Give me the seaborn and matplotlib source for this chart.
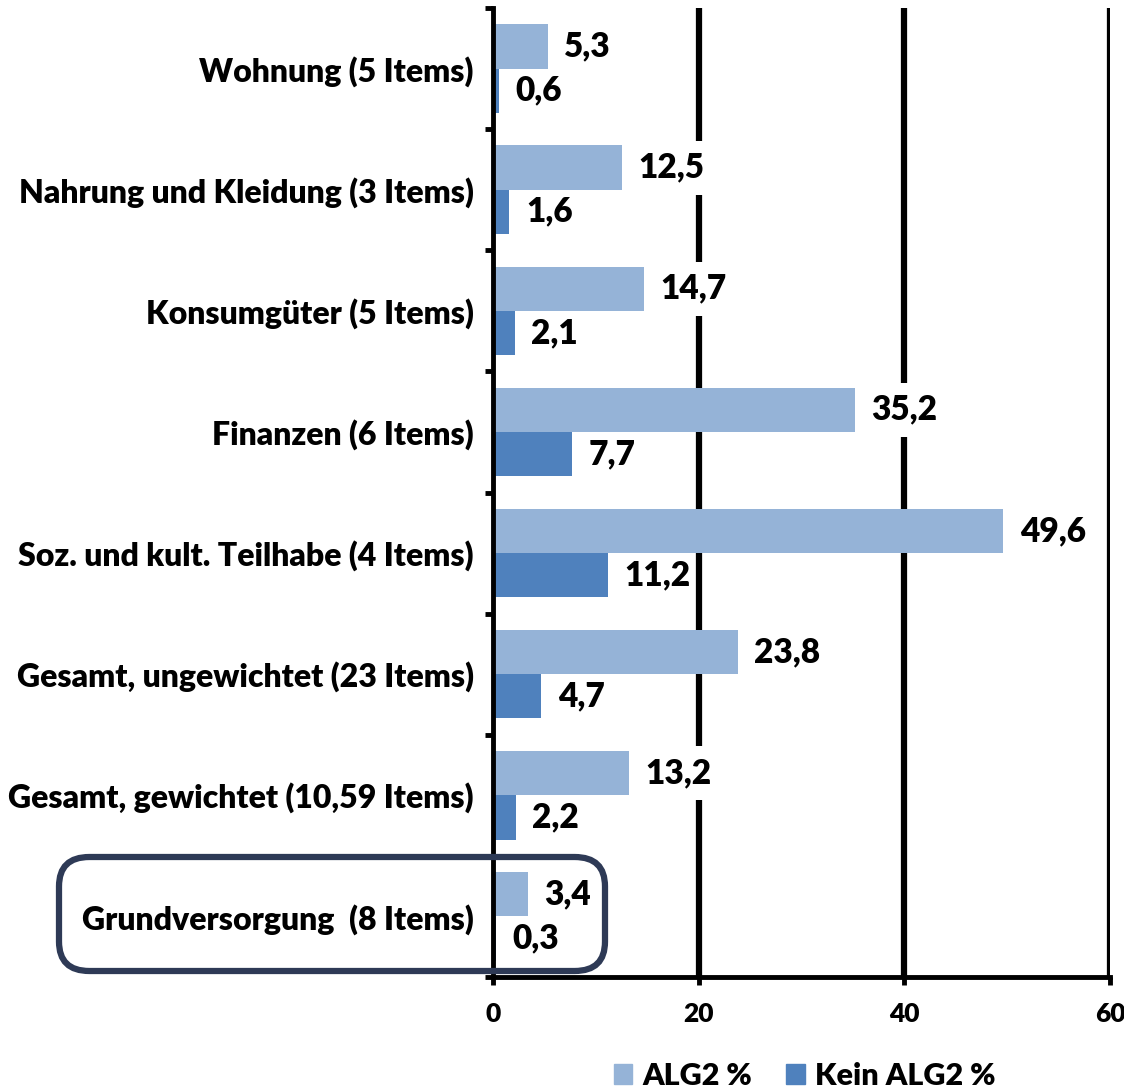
import matplotlib
matplotlib.use("Agg")
import matplotlib.pyplot as plt
import seaborn as sns
import pandas as pd
import numpy as np
from matplotlib.patches import FancyBboxPatch

categories = ["Wohnung (5 Items)", "Nahrung und Kleidung (3 Items)", "Konsumgüter (5 Items)",
              "Finanzen (6 Items)", "Soz. und kult. Teilhabe (4 Items)",
              "Gesamt, ungewichtet (23 Items)", "Gesamt, gewichtet (10,59 Items)",
              "Grundversorgung  (8 Items)"]
series_names = ["ALG2 %", "Kein ALG2 %"]
alg2 = [5.3, 12.5, 14.7, 35.2, 49.6, 23.8, 13.2, 3.4]
kein_alg2 = [0.6, 1.6, 2.1, 7.7, 11.2, 4.7, 2.2, 0.3]
x_ticks = [0, 20, 40, 60]

sns.set_theme(style="white")
plt.rcParams['font.family'] = ['Lato', 'DejaVu Sans']
plt.rcParams['font.weight'] = 'heavy'
plt.rcParams['text.color'] = 'black'
plt.rcParams['xtick.color'] = 'black'
plt.rcParams['ytick.color'] = 'black'
plt.rcParams['axes.labelcolor'] = 'black'

df = pd.DataFrame({
    "cat": categories * 2,
    "series": [series_names[0]] * len(categories) + [series_names[1]] * len(categories),
    "val": alg2 + kein_alg2,
})

fig = plt.figure(figsize=(11.24, 10.89), dpi=100)
ax = fig.add_axes([493/1124, 1 - 977/1089, (1110-493)/1124, (977-8)/1089])

palette = {series_names[0]: "#95b3d7", series_names[1]: "#4f81bd"}
sns.barplot(data=df, y="cat", x="val", hue="series", order=categories, hue_order=series_names,
            palette=palette, orient="h", width=0.73, saturation=1, ax=ax, legend=False,
            linewidth=0, zorder=4)

ax.set_xlim(0, 60)
ax.set_ylim(len(categories) - 0.5, -0.5)
ax.set_xticks(x_ticks)
ax.set_xticklabels([str(t) for t in x_ticks], fontsize=19, fontweight='heavy')
ax.set_xlabel("")
ax.set_ylabel("")

# grid lines
for t in x_ticks[1:]:
    ax.axvline(t, color="black", lw=4.5, zorder=1)

for side in ["top", "right"]:
    ax.spines[side].set_visible(False)
ax.spines["left"].set_linewidth(3.5)
ax.spines["left"].set_color("black")
ax.spines["left"].set_zorder(5)
ax.spines["bottom"].set_linewidth(3.5)
ax.spines["bottom"].set_color("black")

ax.set_yticks(range(len(categories)))
ax.set_yticklabels(categories, fontsize=23, fontweight='heavy')
ax.tick_params(axis="y", which="major", length=0, pad=14)
ax.set_yticks(np.arange(-0.5, len(categories)), minor=True)
ax.tick_params(axis="y", which="minor", length=6, width=3.5, color="black", left=True)
ax.tick_params(axis="x", which="major", length=6, width=3.5, color="black", bottom=True, pad=12)

# value labels (white background hides grid lines, but stays below the bars)
for i, container in enumerate(ax.containers):
    labels = [f"{v:.1f}".replace(".", ",") for v in container.datavalues]
    txts = ax.bar_label(container, labels=labels, padding=12, fontsize=24, fontweight='heavy',
                        color="black")
    for t in txts:
        t.set_zorder(3)
        if i == 0:
            t.set_bbox(dict(facecolor="white", edgecolor="none", pad=8))

# legend
handles = [plt.Rectangle((0, 0), 1, 1, color=palette[s]) for s in series_names]
fig.legend(handles, series_names, loc="center", bbox_to_anchor=(0.716, 0.012), ncol=2,
           frameon=False, prop={"size": 22, "weight": "heavy"}, handlelength=0.6,
           handleheight=0.6, columnspacing=1.1, handletextpad=0.35, borderaxespad=0)

# rounded box around Grundversorgung
box = FancyBboxPatch((59/1124, 1 - 971/1089), (605-59)/1124, (971-857)/1089,
                     boxstyle="round,pad=0,rounding_size=0.027", transform=fig.transFigure,
                     fill=False, edgecolor="#2e3a56", lw=4.5, zorder=10)
fig.patches.append(box)

fig.savefig("out.png", dpi=100)
